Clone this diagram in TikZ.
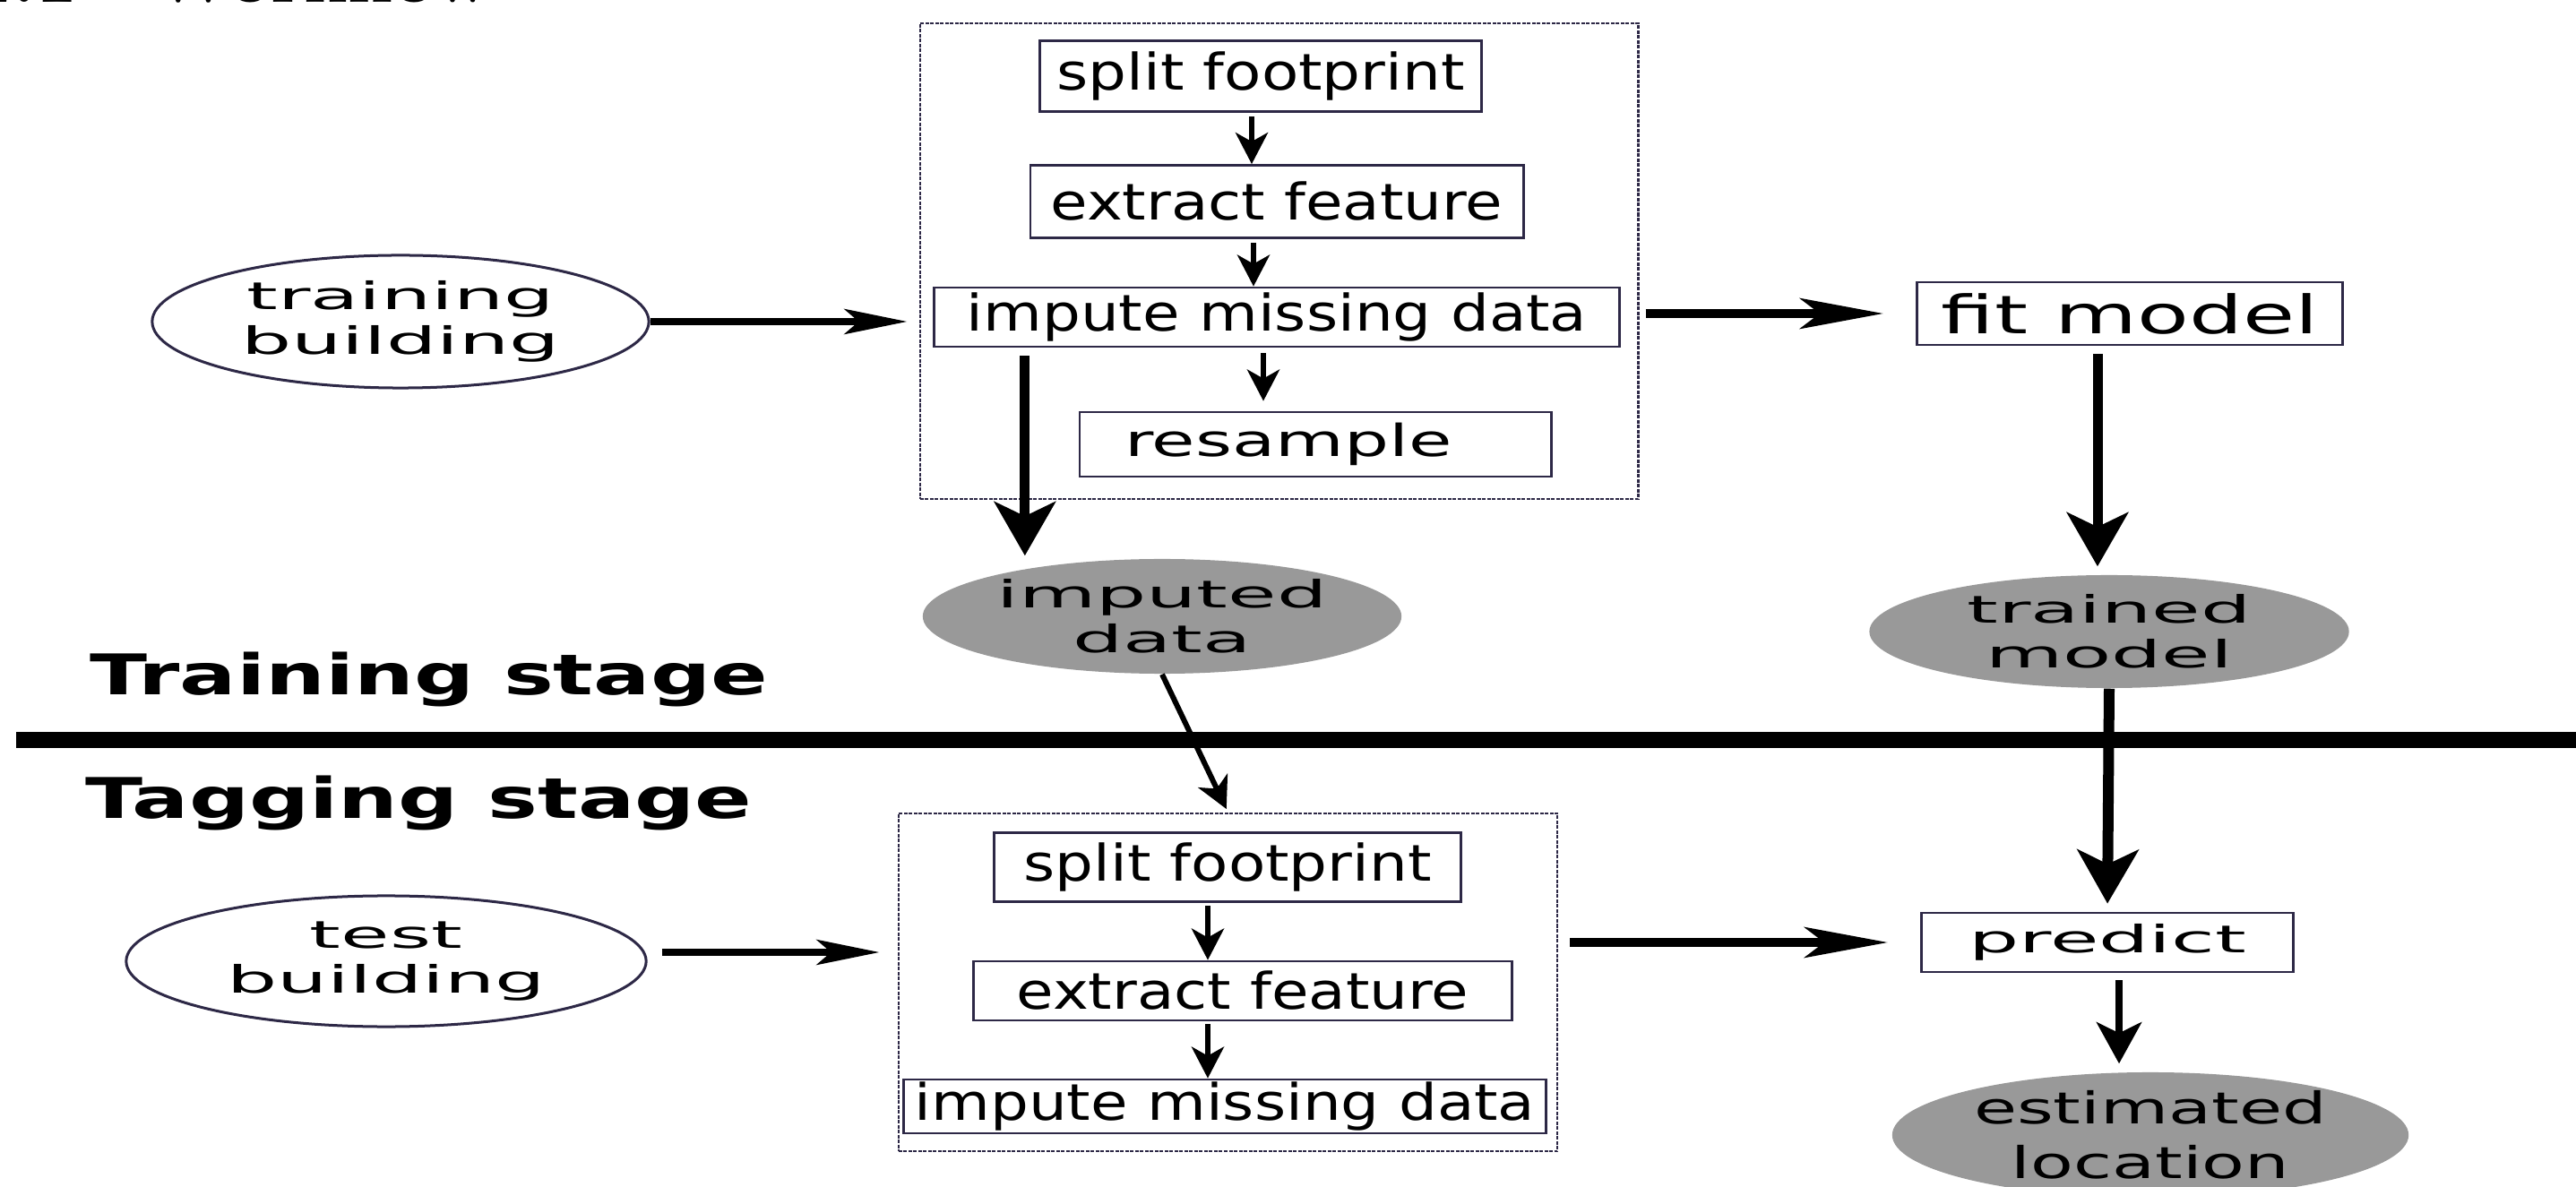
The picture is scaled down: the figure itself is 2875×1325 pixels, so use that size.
\documentclass[tikz,border=0pt]{standalone}
\usepackage{fontspec}
\usepackage{tikz}
\usetikzlibrary{arrows.meta, positioning, calc, shapes.geometric}
\newfontfamily\boxfont[FakeStretch=1.2]{DejaVu Sans}
\newfontfamily\wideboxfont[FakeStretch=1.6]{DejaVu Sans}
\newfontfamily\ovalfont[FakeStretch=2.1]{DejaVu Sans}
\newfontfamily\stagefont[FakeStretch=1.5]{DejaVu Sans}
\definecolor{edge}{RGB}{45,40,70}
\definecolor{blob}{RGB}{153,153,153}

\begin{document}
\begin{tikzpicture}[x=0.01cm, y=-0.01cm,
  stepbox/.style={draw=edge, line width=0.27mm, inner sep=0pt, align=center,
                  font=\boxfont\fontsize{16}{19}\selectfont},
  dashgroup/.style={draw=edge, line width=0.25mm, dash pattern=on 0.4mm off 0.15mm, inner sep=0pt},
  oval/.style={ellipse, draw=edge, line width=0.3mm, inner sep=0pt, align=center,
               font=\ovalfont\fontsize{12}{14.2}\selectfont},
  blobnode/.style={ellipse, fill=blob, inner sep=0pt, align=center,
                   font=\ovalfont\fontsize{12}{14.2}\selectfont},
  stagelbl/.style={inner sep=0pt, anchor=base west, font=\stagefont\bfseries\fontsize{17.8}{21}\selectfont},
  inarr/.style={-{Stealth[length=3.5mm, width=3.6mm, inset=1mm]}, line width=0.6mm},
  feedarr/.style={-{Stealth[length=7mm, width=2.8mm, inset=1.6mm]}, line width=0.8mm},
  outarr/.style={-{Stealth[length=9.3mm, width=3.4mm, inset=2.2mm]}, line width=1mm},
  bigarr/.style={-{Stealth[length=6mm, width=6.8mm, inset=1.6mm]}, line width=1.1mm},
  midarr/.style={-{Stealth[length=4.6mm, width=5mm, inset=1.2mm]}, line width=0.8mm}
]
\useasboundingbox (0,0) rectangle (2875,1325);
%% HEADING (cut by the top edge)
\node[anchor=base west, inner sep=0pt, font=\rmfamily\bfseries\fontsize{23.3}{28}\selectfont] (head) at (-32,3) {2.1\quad Workflow};
%% TRAINING STAGE
\node[dashgroup, minimum width=8.01cm, minimum height=5.31cm] (grp1) at (1427.5,291.5) {};
\node[stepbox, minimum width=4.93cm, minimum height=0.79cm] (sf1) at (1407,85) {split footprint};
\node[stepbox, minimum width=5.5cm, minimum height=0.81cm] (ef1) at (1425,225) {extract feature};
\node[stepbox, minimum width=7.65cm, minimum height=0.66cm] (imp1) at (1425,354) {impute missing data};
\node[stepbox, minimum width=5.26cm, minimum height=0.72cm, font=\wideboxfont\fontsize{14}{17}\selectfont] (rs) at (1468,496) {resample\hspace{0.6cm}};
\draw[inarr, shorten <=0.4mm] ([xshift=-1mm]sf1.south) -- ([xshift=-1mm]sf1.south |- ef1.north);
\draw[inarr, shorten <=0.4mm] ([xshift=-2.6mm]ef1.south) -- ([xshift=-2.6mm]ef1.south |- imp1.north);
\draw[inarr, shorten <=0.6mm, shorten >=1.1mm] ([xshift=-1.5mm]imp1.south) -- ([xshift=-1.5mm]imp1.south |- rs.north);

\node[oval, minimum width=5.54cm, minimum height=1.48cm] (tb1) at (447,359) {training\\building};
\node[stepbox, minimum width=4.75cm, minimum height=0.7cm, font=\wideboxfont\fontsize{16.8}{20}\selectfont] (fit) at (2377,350) {fit model};
\node[blobnode, minimum width=5.34cm, minimum height=1.28cm] (imdata) at (1297,688) {imputed\\data};
\node[blobnode, minimum width=5.35cm, minimum height=1.26cm] (tm) at (2354,705) {trained\\model};
\draw[feedarr, shorten >=1.3mm] (tb1.east) -- (tb1.east -| grp1.west);
\draw[outarr, shorten <=0.7mm, shorten >=3.6mm] (grp1.east |- fit.west) -- (fit.west);
\draw[bigarr, shorten <=0.9mm, shorten >=0.3mm] ([xshift=-28.1mm]imp1.south) -- ([xshift=-28.1mm]imp1.south |- imdata.north);
\draw[bigarr, shorten <=0.9mm, shorten >=0.9mm] ([xshift=-3.6mm]fit.south) -- ([xshift=-3.6mm]fit.south |- tm.north);
\node[stagelbl] (trainlbl) at (100,776) {Training stage};

%% DIVIDER
\draw[line width=1.8mm] (18,826) -- (2900,826);

%% TAGGING STAGE
\node[stagelbl] (taglbl) at (95,913) {Tagging stage};
\node[dashgroup, minimum width=7.35cm, minimum height=3.77cm] (grp2) at (1370.5,1096.5) {};
\node[stepbox, minimum width=5.21cm, minimum height=0.77cm] (sf2) at (1370,968) {split footprint};
\node[stepbox, minimum width=6.0cm, minimum height=0.66cm] (ef2) at (1387,1106) {extract feature};
\node[stepbox, minimum width=7.17cm, minimum height=0.6cm] (imp2) at (1367,1235) {impute missing data};
\draw[inarr, shorten <=0.3mm] ([xshift=-2.2mm]sf2.south) -- ([xshift=-2.2mm]sf2.south |- ef2.north);
\draw[inarr, shorten <=0.3mm] ([xshift=-3.9mm]ef2.south) -- ([xshift=-3.9mm]ef2.south |- imp2.north);

\node[oval, minimum width=5.8cm, minimum height=1.46cm] (tb2) at (431,1073) {test\\building};
\node[stepbox, minimum width=4.15cm, minimum height=0.66cm, font=\ovalfont\fontsize{12}{14.2}\selectfont] (pr) at (2352,1052) {predict};
\node[blobnode, minimum width=5.76cm, minimum height=1.4cm, font=\wideboxfont\fontsize{13.9}{17.3}\selectfont] (el) at (2400,1267) {estimated\\location};
\draw[feedarr, shorten <=1.6mm, shorten >=2mm] ([yshift=1mm]tb2.east) -- ([yshift=1mm]tb2.east -| grp2.west);
\draw[outarr, shorten <=1.3mm, shorten >=3.6mm] (grp2.east |- pr.west) -- (pr.west);
\draw[midarr, shorten <=0.8mm, shorten >=0.9mm] ([xshift=1.3mm]pr.south) -- ([xshift=1.3mm]pr.south |- el.north);

%% INTER-STAGE
\draw[inarr, shorten >=0.4mm] (imdata.south) -- (grp2.north);
\draw[bigarr, line width=1.2mm, shorten >=0.9mm] (tm.south) -- (pr.north);
\end{tikzpicture}
\end{document}
